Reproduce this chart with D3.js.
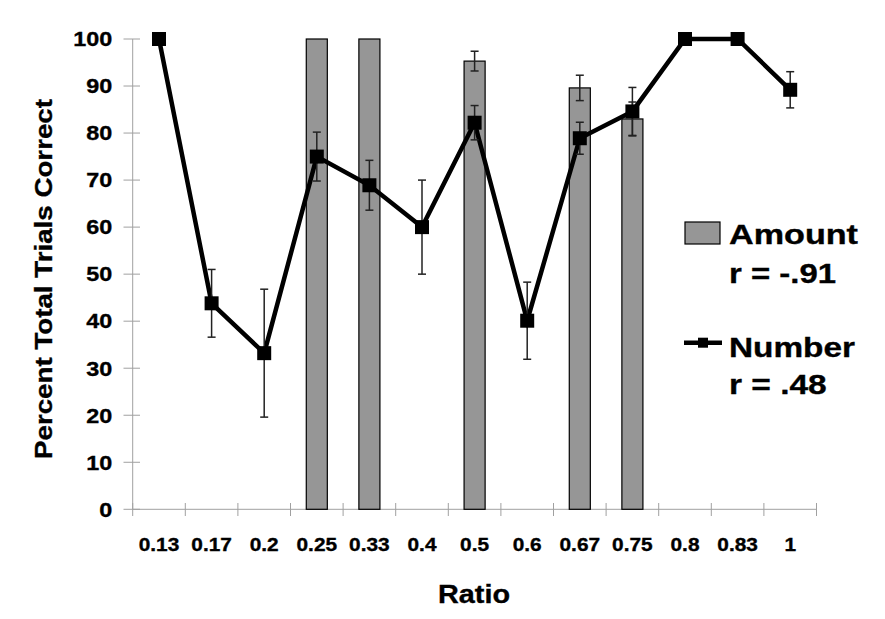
<!DOCTYPE html>
<html>
<head>
<meta charset="utf-8">
<script src="https://cdn.jsdelivr.net/npm/d3@7"></script>
<style>
  html, body { margin: 0; padding: 0; background: #fff; }
  svg { display: block; }
  text { font-family: "Liberation Sans", Arial, sans-serif; font-weight: bold; fill: #000; stroke: #000; stroke-width: 0.35px; }
</style>
</head>
<body>
<svg id="chart" width="885" height="619"></svg>
<script>
// ---- data ----
const categories = ["0.13","0.17","0.2","0.25","0.33","0.4","0.5","0.6","0.67","0.75","0.8","0.83","1"];
const amountValues = [null,null,null,100,100,null,95.3,null,89.6,83.0,null,null,null];
const amountErrors = [null,null,null,0,0,null,2.1,null,2.7,3.6,null,null,null];
const numberValues = [100,43.8,33.2,75.0,68.9,60.0,82.2,40.1,78.9,84.6,100,100,89.2];
const numberErrors = [0,7.2,13.6,5.2,5.3,10.0,3.65,8.2,3.4,5.1,0,0,3.85];
const yTicks = [0,10,20,30,40,50,60,70,80,90,100];
const legendLabels = [["Amount","r = -.91"],["Number","r = .48"]];

// ---- layout ----
const svg = d3.select("#chart");
const x = d3.scaleBand().domain(categories).range([132.7, 816.5]).paddingInner(0).paddingOuter(0);
const y = d3.scaleLinear().domain([0, 100]).range([509.3, 39]);
const barW = x.bandwidth() * 0.4;
const cx = c => x(c) + x.bandwidth() / 2;

function stretch(sel, factor) {
  sel.each(function() {
    const len = this.getComputedTextLength();
    d3.select(this).attr("textLength", len * factor).attr("lengthAdjust", "spacingAndGlyphs");
  });
}

// axes
const axisColor = "#a0a0a0";
const gAxes = svg.append("g");
gAxes.append("line").attr("x1", 132.7).attr("x2", 132.7).attr("y1", y(100)).attr("y2", y(0))
  .attr("stroke", axisColor).attr("stroke-width", 1);
gAxes.selectAll(".yt").data(yTicks).join("line")
  .attr("x1", 123.5).attr("x2", 140).attr("y1", d => y(d)).attr("y2", d => y(d))
  .attr("stroke", axisColor).attr("stroke-width", 1);
gAxes.append("line").attr("x1", 132.7).attr("x2", 816.5).attr("y1", y(0)).attr("y2", y(0))
  .attr("stroke", axisColor).attr("stroke-width", 1);
const bounds = categories.map(c => x(c)).concat([x.range()[1]]);
gAxes.selectAll(".xt").data(bounds).join("line")
  .attr("x1", d => d).attr("x2", d => d).attr("y1", 503).attr("y2", 516)
  .attr("stroke", axisColor).attr("stroke-width", 1);

// y tick labels
svg.append("g").selectAll("text").data(yTicks).join("text")
  .attr("x", 112.3).attr("y", d => y(d) + 7.3)
  .attr("text-anchor", "end").style("font-size", "20.5px")
  .text(d => d).call(stretch, 1.14);

// x tick labels
svg.append("g").selectAll("text").data(categories).join("text")
  .attr("x", d => cx(d)).attr("y", 550.5)
  .attr("text-anchor", "middle").style("font-size", "18.6px")
  .text(d => d).call(stretch, 1.12);

// axis titles
svg.append("text").attr("x", 474).attr("y", 603).attr("text-anchor", "middle")
  .style("font-size", "25.5px").text("Ratio").attr("textLength", 72).attr("lengthAdjust", "spacingAndGlyphs");
svg.append("text").attr("transform", "translate(52,279) rotate(-90)").attr("text-anchor", "middle")
  .style("font-size", "23px").text("Percent Total Trials Correct")
  .attr("textLength", 360).attr("lengthAdjust", "spacingAndGlyphs");

// bars
const barData = categories.map((c, i) => ({c, v: amountValues[i], e: amountErrors[i]})).filter(d => d.v != null);
svg.append("g").selectAll("rect").data(barData).join("rect")
  .attr("x", d => cx(d.c) - barW / 2).attr("width", barW)
  .attr("y", d => y(d.v)).attr("height", d => y(0) - y(d.v))
  .attr("fill", "#969696").attr("stroke", "#000").attr("stroke-width", 1.2);

function errorBars(g, data) {
  const e = data.filter(d => d.e);
  g.selectAll(".v").data(e).join("line")
    .attr("x1", d => cx(d.c)).attr("x2", d => cx(d.c))
    .attr("y1", d => y(d.v + d.e)).attr("y2", d => y(d.v - d.e));
  g.selectAll(".t").data(e).join("line").attr("class", "t")
    .attr("x1", d => cx(d.c) - 4).attr("x2", d => cx(d.c) + 4)
    .attr("y1", d => y(d.v + d.e)).attr("y2", d => y(d.v + d.e));
  g.selectAll(".b").data(e).join("line").attr("class", "b")
    .attr("x1", d => cx(d.c) - 4).attr("x2", d => cx(d.c) + 4)
    .attr("y1", d => y(d.v - d.e)).attr("y2", d => y(d.v - d.e));
  g.selectAll("line").attr("stroke", "#222").attr("stroke-width", 1.5);
}
svg.append("g").call(errorBars, barData);

// number line
const numData = categories.map((c, i) => ({c, v: numberValues[i], e: numberErrors[i]}));
svg.append("path").datum(numData)
  .attr("d", d3.line().x(d => cx(d.c)).y(d => y(d.v)))
  .attr("fill", "none").attr("stroke", "#000").attr("stroke-width", 4.5).attr("stroke-linejoin", "miter");
svg.append("g").call(errorBars, numData);
const ms = 14;
svg.append("g").selectAll("rect").data(numData).join("rect")
  .attr("x", d => cx(d.c) - ms / 2).attr("y", d => y(d.v) - ms / 2)
  .attr("width", ms).attr("height", ms).attr("fill", "#000");

// legend
const lg = svg.append("g");
lg.append("rect").attr("x", 685).attr("y", 222).attr("width", 35).attr("height", 22)
  .attr("fill", "#969696").attr("stroke", "#000").attr("stroke-width", 1.2);
lg.append("line").attr("x1", 684).attr("x2", 722).attr("y1", 342.7).attr("y2", 342.7)
  .attr("stroke", "#000").attr("stroke-width", 4.5);
lg.append("rect").attr("x", 698).attr("y", 337.7).attr("width", 10).attr("height", 10).attr("fill", "#000");
const legendText = [
  {t: legendLabels[0][0], y: 244.3, w: 129},
  {t: legendLabels[0][1], y: 282.7, w: 107},
  {t: legendLabels[1][0], y: 356.7, w: 126},
  {t: legendLabels[1][1], y: 394.3, w: 97.7}
];
lg.selectAll("text").data(legendText).join("text")
  .attr("x", 729).attr("y", d => d.y).style("font-size", "28px")
  .text(d => d.t).attr("textLength", d => d.w).attr("lengthAdjust", "spacingAndGlyphs");
</script>
</body>
</html>
